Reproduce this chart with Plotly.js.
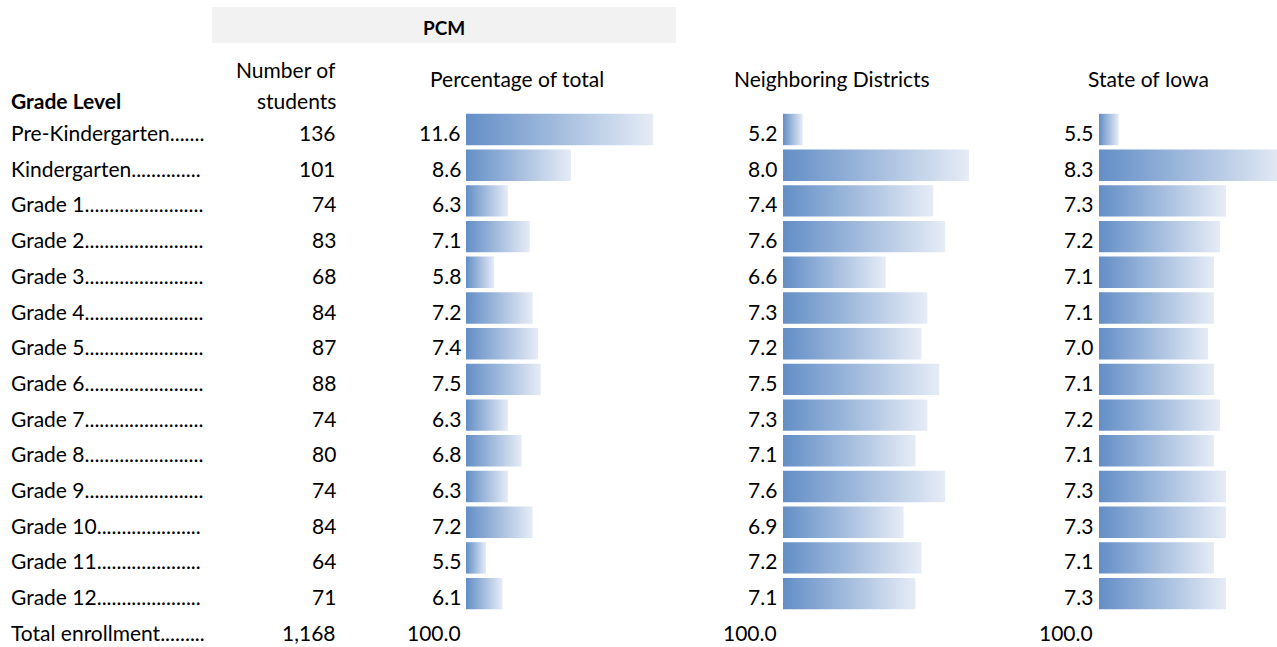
<!DOCTYPE html>
<html>
<head>
<meta charset="utf-8">
<script src="https://cdn.plot.ly/plotly-3.0.1.min.js"></script>
<style>html,body{margin:0;padding:0;background:#fff;}#chart{width:1277px;height:647px;}</style>
</head>
<body>
<div id="chart"></div>
<script>
// ---- data ----
const grades = ['Pre-Kindergarten','Kindergarten','Grade 1','Grade 2','Grade 3','Grade 4','Grade 5',
                'Grade 6','Grade 7','Grade 8','Grade 9','Grade 10','Grade 11','Grade 12'];
const students = [136,101,74,83,68,84,87,88,74,80,74,84,64,71];
const pcmPct = [11.6,8.6,6.3,7.1,5.8,7.2,7.4,7.5,6.3,6.8,6.3,7.2,5.5,6.1];
const neighborPct = [5.2,8.0,7.4,7.6,6.6,7.3,7.2,7.5,7.3,7.1,7.6,6.9,7.2,7.1];
const iowaPct = [5.5,8.3,7.3,7.2,7.1,7.1,7.0,7.1,7.2,7.1,7.3,7.3,7.1,7.3];
const totalLabel = 'Total enrollment';
const totalStudents = '1,168';
const totalPct = ['100.0','100.0','100.0'];
const headers = {group:'PCM', rowHead:'Grade Level', countHead:['Number of','students'],
                 cols:['Percentage of total','Neighboring Districts','State of Iowa']};

// ---- layout helpers ----
const W = 1277, H = 647;
const ROW0 = 129.5, PITCH = 35.7;          // bar centre of first row, row pitch (px)
const toY = px => (px - ROW0) / PITCH;      // pixel -> y data
const px = v => v / W;                      // pixel -> paper x
const FONT = 'Lato, "Open Sans", sans-serif';
const FS = 21;
const TXT = 0.085;                          // text sits a little below bar centre

// dot leaders that fill the label cell (measured, not clipped)
const ctx = document.createElement('canvas').getContext('2d');
ctx.font = FS + 'px Lato';
const LABEL_W = 194;
function leader(name) {
  const dw = ctx.measureText('.').width;
  const n = Math.max(0, Math.floor((LABEL_W - ctx.measureText(name).width) / dw));
  return name + '.'.repeat(n);
}

const panels = [
  {vals: pcmPct,      axis:'x',  start:466,  end:700,  lo:4.77, scale:27.4, numRight:462},
  {vals: neighborPct, axis:'x2', start:783,  end:1050, lo:4.87, scale:59.4, numRight:778},
  {vals: iowaPct,     axis:'x3', start:1099, end:1277, lo:5.17, scale:59.6, numRight:1094}
];

const traces = [];
const half = 0.44;
panels.forEach(p => {
  p.vals.forEach((v, i) => {
    traces.push({
      type:'scatter', mode:'none', xaxis:p.axis, yaxis:'y',
      x:[p.lo, v, v, p.lo, p.lo],
      y:[i-half, i-half, i+half, i+half, i-half],
      fill:'toself',
      fillcolor:'#8fadd8',
      fillgradient:{type:'horizontal', colorscale:[[0,'#638ec6'],[1,'#e6ecf6']]},
      hoverinfo:'skip', showlegend:false
    });
  });
});

const ann = [];
function txt(text, xPx, yData, anchor, extra) {
  ann.push(Object.assign({text:text, x:px(xPx), xref:'paper', y:yData, yref:'y',
    xanchor:anchor, yanchor:'middle', showarrow:false, borderpad:0,
    font:{family:FONT, size:FS, color:'#000'}}, extra || {}));
}
grades.forEach((g, i) => {
  txt(leader(g), 10, i + TXT, 'left');
  txt(String(students[i]), 337, i + TXT, 'right');
  panels.forEach(p => txt(p.vals[i].toFixed(1), p.numRight, i + TXT, 'right'));
});
const tr = grades.length;
txt(leader(totalLabel), 10, tr + TXT, 'left');
txt(totalStudents, 337, tr + TXT, 'right');
panels.forEach((p, k) => txt(totalPct[k], p.numRight, tr + TXT, 'right'));

// headers
txt('<b>' + headers.rowHead + '</b>', 10, toY(100.3), 'left');
txt(headers.countHead[0], 337, toY(69), 'right');
txt(headers.countHead[1], 337, toY(100.3), 'right');
txt(headers.cols[0], 516.5, toY(78.5), 'center');
txt(headers.cols[1], 832, toY(78.5), 'center');
txt(headers.cols[2], 1148.5, toY(78.5), 'center');
txt('<b>' + headers.group + '</b>', 444, toY(27.8), 'center', {font:{family:FONT, size:19, color:'#000'}});

const hidden = {visible:false, fixedrange:true};
const layout = {
  width:W, height:H,
  margin:{l:0, r:0, t:0, b:0, pad:0},
  paper_bgcolor:'#fff', plot_bgcolor:'rgba(0,0,0,0)',
  showlegend:false,
  xaxis:Object.assign({domain:[px(466), px(700)], range:[4.77, 4.77 + (700-466)/27.4], anchor:'y'}, hidden),
  xaxis2:Object.assign({domain:[px(783), px(1050)], range:[4.87, 4.87 + (1050-783)/59.4], anchor:'y'}, hidden),
  xaxis3:Object.assign({domain:[px(1099), 1], range:[5.17, 5.17 + (1277-1099)/59.6], anchor:'y'}, hidden),
  yaxis:Object.assign({range:[toY(H), toY(0)], domain:[0,1], anchor:'x'}, hidden),
  shapes:[{type:'rect', xref:'paper', yref:'y', x0:px(212), x1:px(676), y0:toY(7), y1:toY(43),
           fillcolor:'#f2f2f2', line:{width:0}, layer:'below'}],
  annotations:ann
};

Plotly.newPlot('chart', traces, layout, {staticPlot:true, displayModeBar:false});
</script>
</body>
</html>
